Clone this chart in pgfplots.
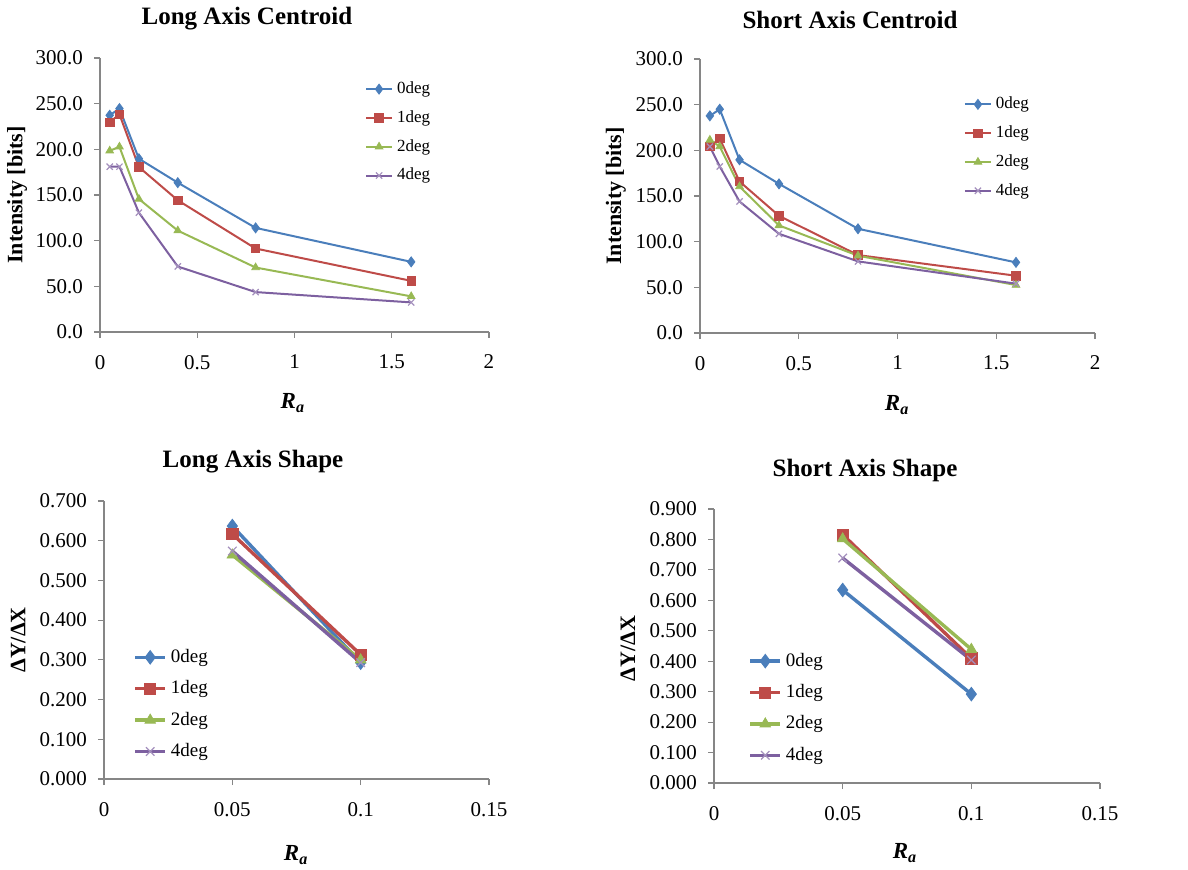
\documentclass[border=0pt]{standalone}
\usepackage{fontspec}
\setmainfont{Liberation Serif}
\usepackage{pgfplots}
\pgfplotsset{compat=1.18}

\definecolor{cA}{HTML}{4A7EBB}
\definecolor{cB}{HTML}{BE4B48}
\definecolor{cC}{HTML}{98B954}
\definecolor{cD}{HTML}{7D60A0}
\definecolor{axgray}{HTML}{868686}

\pgfplotsset{
  excel/.style={
    scale only axis,
    axis lines*=left,
    axis line style={axgray, line width=0.6pt},
    tick style={axgray, line width=0.6pt},
    tick align=outside,
    major tick length=3pt,
    tick label style={font=\rmfamily\fontsize{10.5}{12}\selectfont},
    /pgf/number format/assume math mode=true,
    scaled ticks=false,
    yticklabel style={xshift=-2pt},
    xticklabel style={yshift=-5pt, /pgf/number format/fixed, /pgf/number format/precision=2},
    xlabel={\textbf{\textit{R\textsubscript{a}}}},
    xlabel style={anchor=center, font=\rmfamily\fontsize{11.5}{13}\selectfont},
    ylabel style={anchor=center, font=\rmfamily\bfseries\fontsize{11}{13}\selectfont},
    legend cell align=left,
    legend style={draw=none, fill=none, anchor=north west},
  },
  top/.style={
    excel,
    xmin=0, xmax=2, xtick={0,0.5,1,1.5,2},
    ymin=0, ymax=300, ytick={0,50,...,300},
    yticklabel style={/pgf/number format/fixed, /pgf/number format/fixed zerofill, /pgf/number format/precision=1},
    ylabel={Intensity [bits]},
    every axis plot/.append style={line width=1pt},
    legend style={font=\rmfamily\fontsize{8.5}{10}\selectfont, row sep=3pt},
    legend image code/.code={\draw[mark repeat=2, mark phase=2, #1] plot coordinates {(0pt,0pt) (6.5pt,0pt) (13pt,0pt)};},
  },
  bot/.style={
    excel,
    xmin=0, xmax=0.15, xtick={0,0.05,0.1,0.15},
    ymin=0,
    yticklabel style={/pgf/number format/fixed, /pgf/number format/fixed zerofill, /pgf/number format/precision=3},
    ylabel={ΔY/ΔX},
    every axis plot/.append style={line width=1.7pt},
    legend style={font=\rmfamily\fontsize{9.5}{11}\selectfont, row sep=3.6pt},
    legend image code/.code={\draw[mark repeat=2, mark phase=2, #1] plot coordinates {(0pt,0pt) (7.5pt,0pt) (15pt,0pt)};},
  },
  sA/.style={cA, mark=diamond*, mark options={solid, fill=cA, draw=cA, line width=0.4pt}},
  sB/.style={cB, mark=square*, mark options={solid, fill=cB, draw=cB, line width=0.4pt}},
  sC/.style={cC, mark=triangle*, mark options={solid, fill=cC, draw=cC, line width=0.4pt}},
  sD/.style={cD, mark=x, mark options={solid, draw=cD!70, line width=0.6pt}},
}

\begin{document}
\begin{tikzpicture}
\useasboundingbox (0,0) rectangle (594pt,434.5pt);

% Long Axis Centroid
\begin{axis}[top, width=194.5pt, height=137pt, at={(50pt,268.5pt)}, anchor=south west,
  xlabel style={at={(axis description cs:0.496,-0.26)}},
  ylabel style={at={(axis description cs:-0.213,0.5)}},
  legend style={at={(axis description cs:0.665,0.944)}},
  mark size=2.2pt]
\addplot[sA, mark size=2.5pt] coordinates {(0.05,237.3)(0.1,244.6)(0.2,189.7)(0.4,163.5)(0.8,114.0)(1.6,76.8)};
\addplot[sB, mark size=2.1pt] coordinates {(0.05,229.7)(0.1,238.4)(0.2,180.6)(0.4,144.2)(0.8,91.4)(1.6,56.0)};
\addplot[sC] coordinates {(0.05,198.4)(0.1,202.8)(0.2,145.6)(0.4,111.0)(0.8,70.6)(1.6,39.0)};
\addplot[sD] coordinates {(0.05,181.0)(0.1,181.0)(0.2,130.7)(0.4,71.7)(0.8,43.7)(1.6,32.4)};
\legend{0deg,1deg,2deg,4deg}
\end{axis}

% Short Axis Centroid
\begin{axis}[top, width=197.5pt, height=137pt, at={(350pt,268pt)}, anchor=south west,
  xlabel style={at={(axis description cs:0.499,-0.263)}},
  ylabel style={at={(axis description cs:-0.213,0.5)}},
  legend style={at={(axis description cs:0.652,0.892)}},
  mark size=2.2pt]
\addplot[sA, mark size=2.5pt] coordinates {(0.05,237.7)(0.1,245.0)(0.2,189.6)(0.4,163.3)(0.8,114.1)(1.6,77.3)};
\addplot[sB, mark size=2.1pt] coordinates {(0.05,204.2)(0.1,212.9)(0.2,165.9)(0.4,128.3)(0.8,85.3)(1.6,62.7)};
\addplot[sC] coordinates {(0.05,211.4)(0.1,204.2)(0.2,160.4)(0.4,117.8)(0.8,84.6)(1.6,52.5)};
\addplot[sD] coordinates {(0.05,204.0)(0.1,182.3)(0.2,144.0)(0.4,108.6)(0.8,78.4)(1.6,54.0)};
\legend{0deg,1deg,2deg,4deg}
\end{axis}

% Long Axis Shape
\begin{axis}[bot, width=192.5pt, height=139pt, at={(52pt,45pt)}, anchor=south west,
  ymax=0.7, ytick={0,0.1,...,0.7},
  xlabel style={at={(axis description cs:0.499,-0.273)}},
  ylabel style={at={(axis description cs:-0.223,0.5)}},
  legend style={at={(axis description cs:0.06,0.497)}},
  mark size=3pt]
\addplot[sA, mark size=3.4pt] coordinates {(0.05,0.637)(0.1,0.293)};
\addplot[sB, mark size=2.8pt] coordinates {(0.05,0.617)(0.1,0.313)};
\addplot[sC] coordinates {(0.05,0.564)(0.1,0.300)};
\addplot[sD] coordinates {(0.05,0.574)(0.1,0.293)};
\legend{0deg,1deg,2deg,4deg}
\end{axis}

% Short Axis Shape
\begin{axis}[bot, width=193pt, height=137pt, at={(357pt,43pt)}, anchor=south west,
  ymax=0.9, ytick={0,0.1,...,0.9},
  xlabel style={at={(axis description cs:0.495,-0.255)}},
  ylabel style={at={(axis description cs:-0.223,0.49)}},
  legend style={at={(axis description cs:0.073,0.505)}},
  mark size=3pt]
\addplot[sA, mark size=3.4pt] coordinates {(0.05,0.634)(0.1,0.292)};
\addplot[sB, mark size=2.8pt] coordinates {(0.05,0.816)(0.1,0.409)};
\addplot[sC] coordinates {(0.05,0.802)(0.1,0.439)};
\addplot[sD] coordinates {(0.05,0.739)(0.1,0.404)};
\legend{0deg,1deg,2deg,4deg}
\end{axis}

\node[font=\bfseries\fontsize{12.5}{15}\selectfont] at (123.5pt,425pt) {Long Axis Centroid};
\node[font=\bfseries\fontsize{12.5}{15}\selectfont] at (425pt,424.5pt) {Short Axis Centroid};
\node[font=\bfseries\fontsize{12.5}{15}\selectfont] at (126.5pt,203.5pt) {Long Axis Shape};
\node[font=\bfseries\fontsize{12.5}{15}\selectfont] at (432.5pt,199.5pt) {Short Axis Shape};
\end{tikzpicture}
\end{document}
